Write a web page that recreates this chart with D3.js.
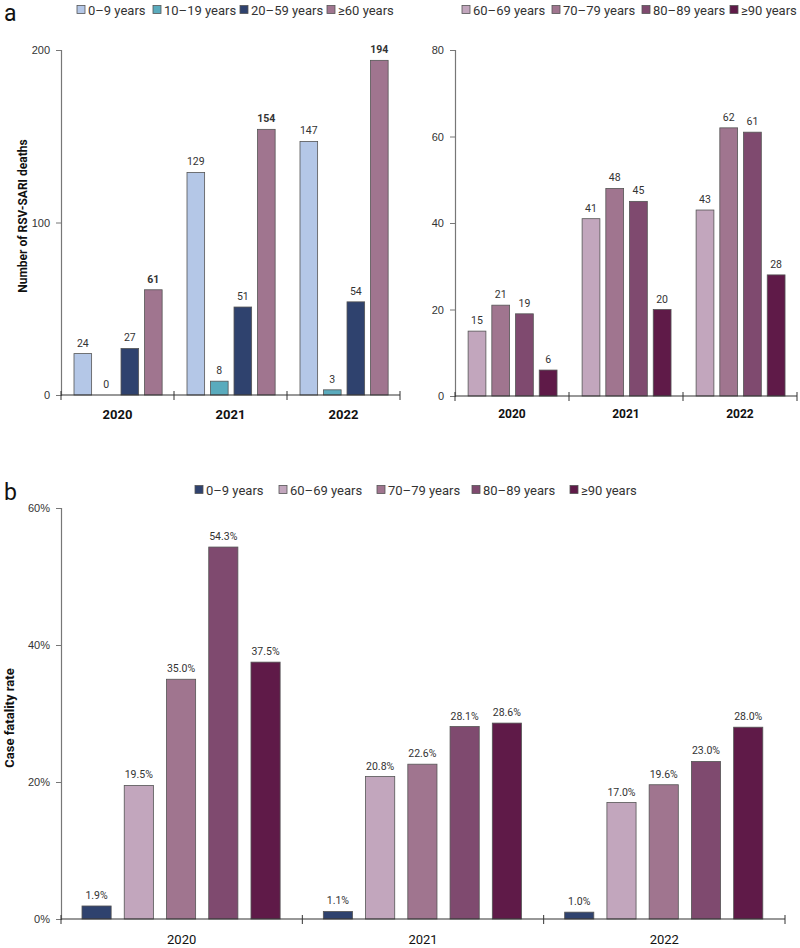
<!DOCTYPE html>
<html><head><meta charset="utf-8">
<script src="https://cdn.jsdelivr.net/npm/d3@7"></script>
<style>
body{margin:0;background:#fff;}
svg{font-family:Roboto, "DejaVu Sans", sans-serif;}
</style></head>
<body><svg id="c" width="800" height="948"></svg>
<script>
const years = ["2020","2021","2022"];
// Panel a, left
const leftSeries = ["0–9 years","10–19 years","20–59 years","≥60 years"];
const leftColors = ["#b4c7e7","#5aabbd","#2f426e","#a0758f"];
const leftValues = [
  [24,129,147],
  [0,8,3],
  [27,51,54],
  [61,154,194]
];
const leftTicks = [0,100,200];
// Panel a, right
const rightSeries = ["60–69 years","70–79 years","80–89 years","≥90 years"];
const rightColors = ["#c2a6bd","#a0758f","#7f4a6f","#5f1a48"];
const rightValues = [
  [15,41,43],
  [21,48,62],
  [19,45,61],
  [6,20,28]
];
const rightTicks = [0,20,40,60,80];
// Panel b
const cfrSeries = ["0–9 years","60–69 years","70–79 years","80–89 years","≥90 years"];
const cfrColors = ["#2f426e","#c2a6bd","#a0758f","#7f4a6f","#5f1a48"];
const cfrValues = [
  [1.9,1.1,1.0],
  [19.5,20.8,17.0],
  [35.0,22.6,19.6],
  [54.3,28.1,23.0],
  [37.5,28.6,28.0]
];
const cfrTicks = [0,20,40,60];

const svg = d3.select("#c");
const textColor = "#333";

function panel(opts){
  const g = svg.append("g");
  const x = d3.scaleBand().domain(years).range([opts.x0, opts.x1]).padding(0);
  const y = d3.scaleLinear().domain([0, opts.ymax]).range([opts.y0, opts.y1]);
  const inner = d3.scaleBand().domain(d3.range(opts.series.length))
    .range([opts.gi0*x.bandwidth(), opts.gi1*x.bandwidth()]).paddingInner(opts.pad).paddingOuter(0);
  opts.values.forEach((vals, si) => {
    const sg = g.append("g");
    sg.selectAll("rect").data(vals).join("rect")
      .attr("x", (d,i) => x(years[i]) + inner(si))
      .attr("y", d => y(d))
      .attr("width", inner.bandwidth())
      .attr("height", d => Math.max(0, opts.y0 - y(d)))
      .attr("fill", opts.colors[si])
      .attr("stroke", "#555").attr("stroke-width", 0.8);
    sg.selectAll("text").data(vals).join("text")
      .attr("x", (d,i) => x(years[i]) + inner(si) + inner.bandwidth()/2)
      .attr("y", d => y(d) - 7)
      .attr("text-anchor","middle")
      .attr("font-size", opts.labelSize)
      .attr("font-weight", opts.boldSeries === si ? "bold" : "normal")
      .attr("fill", textColor)
      .text(d => opts.fmt(d));
  });
  const ya = g.append("g").attr("transform", `translate(${opts.x0},0)`)
    .call(d3.axisLeft(y).tickValues(opts.ticks).tickSize(5).tickPadding(6).tickFormat(opts.tickFmt));
  ya.select(".domain").attr("stroke", "#777").attr("stroke-width",1.2);
  ya.selectAll(".tick line").attr("stroke", "#777");
  ya.selectAll("text").attr("font-size", opts.tickSize).attr("fill", textColor).attr("font-family","inherit");
  const xa = g.append("g").attr("transform", `translate(0,${opts.y0})`);
  xa.append("line").attr("x1", opts.x0).attr("x2", opts.x1).attr("stroke", "#333").attr("stroke-width",1.2);
  const bounds = years.map(d => x(d)).concat([opts.x1]);
  xa.selectAll(".tk").data(bounds).join("line").attr("class","tk")
    .attr("x1", d=>d).attr("x2", d=>d).attr("y1", -4).attr("y2", 5)
    .attr("stroke", "#333").attr("stroke-width",1);
  xa.selectAll(".lb").data(years).join("text").attr("class","lb")
    .attr("x", d => x(d) + x.bandwidth()/2).attr("y", opts.xlabelDy)
    .attr("text-anchor","middle").attr("font-size", opts.xlabelSize)
    .attr("font-weight", opts.xlabelWeight).attr("fill", "#111").text(d=>d);
  return g;
}

function legend(series, colors, startXs, yy, size){
  const g = svg.append("g");
  series.forEach((s,i) => {
    g.append("rect").attr("x", startXs[i]).attr("y", yy-4.5).attr("width", 8).attr("height", 8)
      .attr("fill", colors[i]).attr("stroke", "#555").attr("stroke-width", 0.8);
    g.append("text").attr("x", startXs[i]+11).attr("y", yy).attr("dy","0.35em")
      .attr("font-size", size).attr("fill", textColor).text(s);
  });
}

panel({x0:61, x1:400, y0:395, y1:50, ymax:200, series:leftSeries, values:leftValues, colors:leftColors,
  gi0:0.115, gi1:0.895, pad:0.25, ticks:leftTicks, tickFmt:d3.format("d"), tickSize:11, labelSize:10.5,
  fmt:d3.format("d"), boldSeries:3, xlabelDy:24, xlabelSize:13, xlabelWeight:"bold"});
panel({x0:455, x1:797, y0:396, y1:50, ymax:80, series:rightSeries, values:rightValues, colors:rightColors,
  gi0:0.115, gi1:0.895, pad:0.25, ticks:rightTicks, tickFmt:d3.format("d"), tickSize:11, labelSize:10.5,
  fmt:d3.format("d"), boldSeries:-1, xlabelDy:22, xlabelSize:12, xlabelWeight:"bold"});
panel({x0:61, x1:785, y0:919, y1:508, ymax:60, series:cfrSeries, values:cfrValues, colors:cfrColors,
  gi0:0.087, gi1:0.908, pad:0.31, ticks:cfrTicks, tickFmt:d => d+"%", tickSize:11, labelSize:10.5,
  fmt:d => d3.format(".1f")(d)+"%", boldSeries:-1, xlabelDy:25, xlabelSize:13, xlabelWeight:"normal"});

legend(leftSeries, leftColors, [77,153,240,327], 10, 13);
legend(rightSeries, rightColors, [462,552,642,730], 10, 13);
legend(cfrSeries, cfrColors, [195,279,377,472,570], 490, 13);

svg.append("text").attr("x",4).attr("y",21).attr("font-size",23).attr("fill","#111").text("a");
svg.append("text").attr("x",4).attr("y",500).attr("font-size",23).attr("fill","#111").text("b");

svg.append("text").attr("transform","translate(27,216) rotate(-90)").attr("text-anchor","middle")
  .attr("font-size",12).attr("font-weight","bold").attr("fill","#111").text("Number of RSV-SARI deaths");
svg.append("text").attr("transform","translate(14,718) rotate(-90)").attr("text-anchor","middle")
  .attr("font-size",13).attr("font-weight","bold").attr("fill","#111").text("Case fatality rate");
</script></body></html>
